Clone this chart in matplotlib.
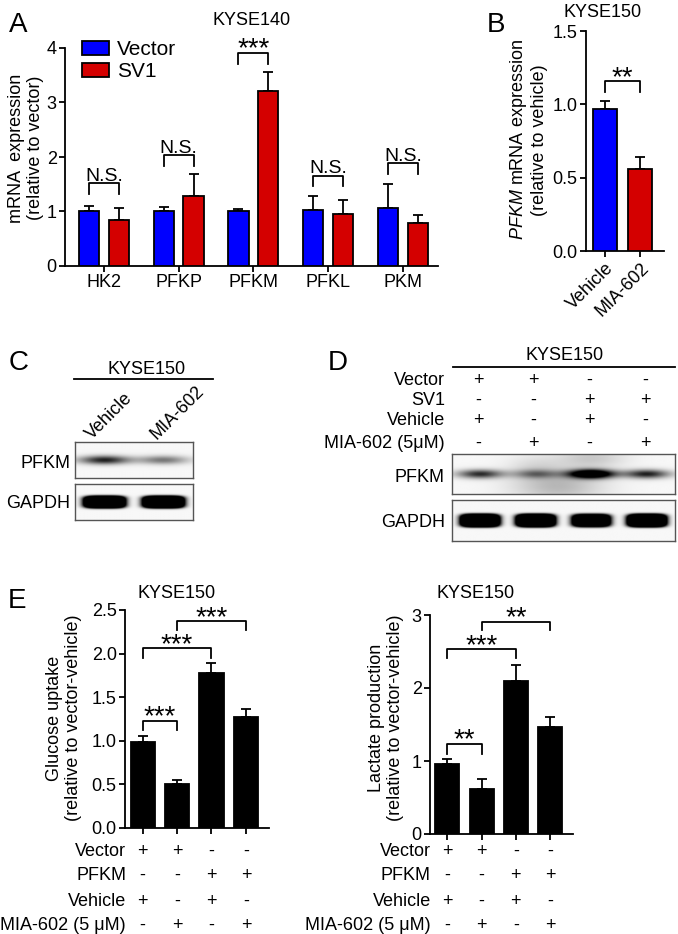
import numpy as np
import matplotlib.pyplot as plt
from matplotlib.transforms import blended_transform_factory

plt.rcParams['font.family'] = ['Liberation Sans', 'DejaVu Sans']
plt.rcParams['mathtext.fontset'] = 'custom'
plt.rcParams['mathtext.it'] = 'Liberation Sans:italic'
plt.rcParams['mathtext.rm'] = 'Liberation Sans'
plt.rcParams['font.size'] = 13
plt.rcParams['axes.linewidth'] = 1.3
plt.rcParams['xtick.major.width'] = 1.3
plt.rcParams['ytick.major.width'] = 1.3
plt.rcParams['xtick.major.size'] = 4
plt.rcParams['ytick.major.size'] = 4

W, H = 678, 934
BLUE = '#0000ff'
RED = '#d40000'

# panel A: KYSE140 qPCR
genes = ['HK2', 'PFKP', 'PFKM', 'PFKL', 'PKM']
vector_mean = [1.01, 1.00, 1.00, 1.03, 1.07]
vector_err = [0.10, 0.08, 0.04, 0.25, 0.44]
sv1_mean = [0.85, 1.28, 3.21, 0.95, 0.79]
sv1_err = [0.22, 0.40, 0.35, 0.26, 0.15]
a_sig = ['N.S.', 'N.S.', '***', 'N.S.', 'N.S.']
a_bracket = [1.52, 2.04, 3.91, 1.66, 1.89]

# panel B: KYSE150 PFKM mRNA
b_groups = ['Vehicle', 'MIA-602']
b_mean = [0.97, 0.56]
b_err = [0.05, 0.08]

# panel C: blot
c_lanes = ['Vehicle', 'MIA-602']
c_pfkm = [0.85, 0.5]
c_gapdh = [4.0, 4.0]

# panel D: blot
d_rows = ['Vector', 'SV1', 'Vehicle', 'MIA-602 (5μM)']
d_signs = [['+', '+', '-', '-'],
           ['-', '-', '+', '+'],
           ['+', '-', '+', '-'],
           ['-', '+', '-', '+']]
d_pfkm = [0.8, 0.45, 1.6, 0.85]
d_gapdh = [4.0, 4.0, 3.2, 4.0]

# panel E
e_rows = ['Vector', 'PFKM', 'Vehicle', 'MIA-602 (5 μM)']
e_signs = [['+', '+', '-', '-'],
           ['-', '-', '+', '+'],
           ['+', '-', '+', '-'],
           ['-', '+', '-', '+']]
glucose_mean = [0.99, 0.50, 1.78, 1.27]
glucose_err = [0.06, 0.045, 0.11, 0.10]
glucose_pairs = [(0, 1, 1.23, '***'), (0, 2, 2.06, '***'), (1, 3, 2.37, '***')]
lactate_mean = [0.96, 0.62, 2.09, 1.46]
lactate_err = [0.07, 0.13, 0.23, 0.14]
lactate_pairs = [(0, 1, 1.23, '**'), (0, 2, 2.53, '***'), (1, 3, 2.91, '**')]

fig = plt.figure(figsize=(W / 100, H / 100), dpi=100)


def rect(l, t, r, b):
    return [l / W, 1 - b / H, (r - l) / W, (b - t) / H]


def ftext(x, y, s, **kw):
    return fig.text(x / W, 1 - y / H, s, **kw)


def style(ax):
    for s in ['top', 'right']:
        ax.spines[s].set_visible(False)
    ax.tick_params(direction='out', pad=2)


def bracket(ax, x1, x2, y, leg, label):
    ax.plot([x1, x1, x2, x2], [y - leg, y, y, y - leg], color='k', lw=1.3,
            clip_on=False)
    if '*' in label:
        ax.annotate(label, xy=((x1 + x2) / 2, y), xytext=(0, -2.5),
                    textcoords='offset points', ha='center', va='baseline',
                    fontsize=20)
    else:
        ax.annotate(label, xy=((x1 + x2) / 2, y), xytext=(0, 1.5),
                    textcoords='offset points', ha='center', va='baseline',
                    fontsize=14)


def bars(ax, x, mean, err, color, width):
    ax.bar(x, mean, width, color=color, edgecolor='k', linewidth=1.3,
           zorder=3)
    ax.errorbar(x, mean, yerr=[np.zeros(len(mean)), err], fmt='none',
                ecolor='k', elinewidth=1.3, capsize=3.5, capthick=1.3,
                zorder=2)


# ---------------- A ----------------
axA = fig.add_axes(rect(65, 48, 438, 266))
style(axA)
xa = np.arange(len(genes))
bars(axA, xa - 0.2, vector_mean, vector_err, BLUE, 0.27)
bars(axA, xa + 0.2, sv1_mean, sv1_err, RED, 0.27)
axA.set_xlim(-0.52, 4.47)
axA.set_ylim(0, 4)
axA.set_yticks([0, 1, 2, 3, 4])
axA.set_xticks(xa)
axA.set_xticklabels(genes)
for i in range(len(genes)):
    bracket(axA, i - 0.2, i + 0.2, a_bracket[i], 0.2, a_sig[i])
axA.legend(handles=[plt.Rectangle((0, 0), 1, 1, fc=BLUE, ec='k', lw=1.3),
                    plt.Rectangle((0, 0), 1, 1, fc=RED, ec='k', lw=1.3)],
           labels=['Vector', 'SV1'], loc='upper left',
           bbox_to_anchor=(0.045, 1.035), frameon=False, borderpad=0,
           borderaxespad=0, handlelength=1.3, handleheight=0.65,
           handletextpad=0.4, labelspacing=0.15, fontsize=15)
ftext(252, 25, 'KYSE140', ha='center', va='baseline')
ftext(26, 148, 'mRNA  expression\n(relative to vector)', rotation=90,
      ha='center', va='center', multialignment='center')
ftext(9, 32, 'A', fontsize=20, va='baseline')

# ---------------- B ----------------
axB = fig.add_axes(rect(586, 31, 664, 251))
style(axB)
xb = np.arange(len(b_groups))
bars(axB, xb, b_mean, b_err, [BLUE, RED], 0.68)
axB.set_xlim(-0.53, 1.68)
axB.set_ylim(0, 1.5)
axB.set_yticks([0, 0.5, 1.0, 1.5])
axB.set_yticklabels(['0.0', '0.5', '1.0', '1.5'])
axB.set_xticks(xb)
axB.set_xticklabels(b_groups, rotation=45, ha='right',
                    rotation_mode='anchor')
bracket(axB, 0, 1, 1.157, 0.075, '**')
ftext(603, 17, 'KYSE150', ha='center', va='baseline')
ftext(528, 140, '$\\mathit{PFKM}$ mRNA expression\n(relative to vehicle)',
      rotation=90, ha='center', va='center', multialignment='center')
ftext(487, 32, 'B', fontsize=20, va='baseline')


# ---------------- blots ----------------
def blot(box, amps, a, b, p, haze=()):
    ax = fig.add_axes(rect(*box))
    n = len(amps)
    X, Y = np.meshgrid(np.linspace(0, n, 400), np.linspace(0, 1, 90))
    dark = np.full_like(X, 0.03)
    for i, amp in enumerate(amps):
        dx = np.abs(X - i - 0.5) / a
        dy = np.abs(Y - 0.5) / b
        dark += amp * np.exp(-(dx ** p + dy ** p))
    for hx, hy, hax, hay, hamp in haze:
        dark += hamp * np.exp(-((X - hx) / hax) ** 2 - ((Y - hy) / hay) ** 2)
    dark = np.clip(dark, 0, 1)
    ax.imshow(dark, cmap='gray_r', vmin=0, vmax=1, extent=(0, n, 1, 0),
              aspect='auto', interpolation='bilinear')
    ax.set_xticks([])
    ax.set_yticks([])
    for s in ax.spines.values():
        s.set_color('#555555')
        s.set_linewidth(1.0)
    return ax


# C
blot((75, 442, 193, 478), c_pfkm, 0.42, 0.12, 2)
blot((75, 484, 193, 520), c_gapdh, 0.33, 0.16, 4)
ftext(9, 370, 'C', fontsize=20, va='baseline')
ftext(147, 374, 'KYSE150', ha='center', va='baseline')
fig.add_artist(plt.Line2D([74 / W, 213 / W], [1 - 378.5 / H, 1 - 378.5 / H],
                          color='k', lw=1.3))
for i, lab in enumerate(c_lanes):
    ftext(92 + 65 * i, 440, lab, rotation=45, rotation_mode='anchor',
          ha='left', va='baseline')
ftext(70, 468, 'PFKM', ha='right', va='baseline')
ftext(70, 508, 'GAPDH', ha='right', va='baseline')

# D
blot((452, 454, 675, 494), d_pfkm, 0.40, 0.11, 2,
     haze=[(1.9, 0.8, 0.8, 0.4, 0.25), (2.5, 0.1, 0.6, 0.25, 0.18),
           (1.5, 0.3, 0.5, 0.3, 0.1)])
blot((452, 500, 675, 541), d_gapdh, 0.33, 0.15, 4)
ftext(328, 370, 'D', fontsize=20, va='baseline')
ftext(565, 360, 'KYSE150', ha='center', va='baseline')
fig.add_artist(plt.Line2D([453 / W, 675 / W], [1 - 367 / H, 1 - 367 / H],
                          color='k', lw=1.3))
d_base = [385, 405, 425, 448]
lane_w = (675 - 452) / 4
for r, lab in enumerate(d_rows):
    ftext(445, d_base[r], lab, ha='right', va='baseline')
    for i, s in enumerate(d_signs[r]):
        ftext(452 + (i + 0.5) * lane_w - 2, d_base[r], s, ha='center',
              va='baseline')
ftext(445, 482, 'PFKM', ha='right', va='baseline')
ftext(445, 527, 'GAPDH', ha='right', va='baseline')

# ---------------- E ----------------
e_base = [856, 880, 905.5, 929.5]


def panel_e(box, mean, err, ylim, ticks, ticklabels, pairs, legs, ylabel,
            ylab_x, title_x, row_x):
    ax = fig.add_axes(rect(*box))
    style(ax)
    x = np.arange(len(mean))
    bars(ax, x, mean, err, 'k', 0.7)
    ax.set_xlim(-0.51, 3.67)
    ax.set_ylim(*ylim)
    ax.set_yticks(ticks)
    ax.set_yticklabels(ticklabels)
    ax.set_xticks(x)
    ax.set_xticklabels([])
    for (i, j, y, lab), leg in zip(pairs, legs):
        bracket(ax, i, j, y, leg, lab)
    tr = blended_transform_factory(ax.transData, fig.transFigure)
    for r, lab in enumerate(e_rows):
        ftext(row_x, e_base[r], lab, ha='right', va='baseline')
        for i, s in enumerate(e_signs[r]):
            ax.text(i, 1 - e_base[r] / H, s, transform=tr, ha='center',
                    va='baseline')
    ftext(title_x, 598, 'KYSE150', ha='center', va='baseline')
    ftext(ylab_x, 718, ylabel, rotation=90, ha='center', va='center',
          multialignment='center')
    return ax


panel_e((125, 610, 269, 828), glucose_mean, glucose_err, (0, 2.5),
        [0, 0.5, 1.0, 1.5, 2.0, 2.5], ['0.0', '0.5', '1.0', '1.5', '2.0', '2.5'],
        glucose_pairs, [0.11, 0.11, 0.1],
        'Glucose uptake\n(relative to vector-vehicle)', 64, 177, 126)
panel_e((430, 615, 573, 834), lactate_mean, lactate_err, (0, 3),
        [0, 1, 2, 3], ['0', '1', '2', '3'],
        lactate_pairs, [0.13, 0.12, 0.12],
        'Lactate production\n(relative to vector-vehicle)', 386, 476, 431)
ftext(8, 608, 'E', fontsize=20, va='baseline')

fig.savefig('out.png', dpi=100)
